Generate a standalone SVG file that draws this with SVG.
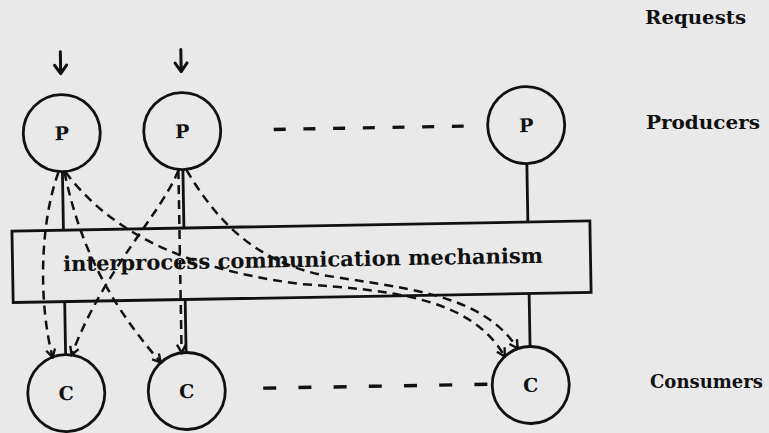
<svg xmlns="http://www.w3.org/2000/svg" width="769" height="433" viewBox="0 0 769 433">
  <style>
    .node { fill: none; stroke: #111; stroke-width: 2.8; }
    .solid { fill: none; stroke: #111; stroke-width: 2.8; }
    .dash { fill: none; stroke: #111; stroke-width: 2.5; stroke-dasharray: 9 6; }
    .rowdash { fill: none; stroke: #111; stroke-width: 3.4; }
    .lbl { font-family: "DejaVu Serif", "Liberation Serif", serif; font-weight: bold; fill: #111; }
    .req { fill: none; stroke: #111; stroke-width: 3; stroke-linecap: round; stroke-linejoin: round; }
  </style>
  <defs>
    <marker id="head" viewBox="-10 -6 12 12" refX="0" refY="0" markerWidth="12" markerHeight="12" orient="auto" markerUnits="userSpaceOnUse">
      <path d="M -8 -4.5 L 0 0 L -8 4.5" fill="none" stroke="#111" stroke-width="2.4"/>
    </marker>
  </defs>

  <rect x="0" y="0" width="769" height="433" fill="#e9e9e9"/>

  <!-- row labels -->
  <g id="labels">
    <text class="lbl" x="645" y="24" font-size="19" textLength="101" lengthAdjust="spacingAndGlyphs">Requests</text>
    <text class="lbl" x="646" y="129" font-size="19" textLength="114" lengthAdjust="spacingAndGlyphs">Producers</text>
    <text class="lbl" x="650" y="388" font-size="19" textLength="113" lengthAdjust="spacingAndGlyphs">Consumers</text>
  </g>

  <g transform="rotate(-1 300 260)">
    <!-- incoming requests -->
    <g id="requests">
      <path class="req" d="M 64 47.5 L 64 69.5 M 58 61 L 64 69.5 L 70 61"/>
      <path class="req" d="M 184.5 47.5 L 184.5 69.5 M 178.5 61 L 184.5 69.5 L 190.5 61"/>
    </g>

    <!-- shared communication mechanism -->
    <g id="ipc">
      <rect class="node" x="12.5" y="226" width="578" height="71.5"/>
      <text class="lbl" x="63" y="267" font-size="21" textLength="480" lengthAdjust="spacingAndGlyphs">interprocess communication mechanism</text>
    </g>

    <!-- producers -->
    <g id="p1">
      <circle class="node" cx="64" cy="129" r="38.5"/>
      <text class="lbl" x="64" y="136" font-size="19" text-anchor="middle">P</text>
    </g>
    <g id="p2">
      <circle class="node" cx="184.5" cy="129" r="38.5"/>
      <text class="lbl" x="184.5" y="136" font-size="19" text-anchor="middle">P</text>
    </g>
    <g id="p3">
      <circle class="node" cx="528.5" cy="129" r="38.5"/>
      <text class="lbl" x="528.5" y="136" font-size="19" text-anchor="middle">P</text>
    </g>

    <!-- consumers -->
    <g id="c1">
      <circle class="node" cx="64" cy="389" r="38.5"/>
      <text class="lbl" x="64" y="396" font-size="19" text-anchor="middle">C</text>
    </g>
    <g id="c2">
      <circle class="node" cx="184.5" cy="389" r="38.5"/>
      <text class="lbl" x="184.5" y="396" font-size="19" text-anchor="middle">C</text>
    </g>
    <g id="c3">
      <circle class="node" cx="528.5" cy="389" r="38.5"/>
      <text class="lbl" x="528.5" y="396" font-size="19" text-anchor="middle">C</text>
    </g>

    <g id="connectors">
      <!-- attachments to the mechanism -->
      <path class="solid" d="M 64 167.5 V 226 M 184.5 167.5 V 226 M 528.5 167.5 V 226"/>
      <path class="solid" d="M 64 297.5 V 350.5 M 184.5 297.5 V 350.5 M 528.5 297.5 V 350.5"/>

      <!-- elision between the last columns -->
      <path class="rowdash" d="M 276 129 H 466" stroke-dasharray="12 17.7"/>
      <path class="rowdash" d="M 261 387.5 H 490" stroke-dasharray="13 22.2"/>

      <!-- logical message paths -->
      <path class="dash" d="M 60 168 C 40 220, 38 300, 51 353" marker-end="url(#head)"/>
      <path class="dash" d="M 66 168 C 78 230, 100 290, 159 360" marker-end="url(#head)"/>
      <path class="dash" d="M 180 168 C 162 212, 104 265, 70 351" marker-end="url(#head)"/>
      <path class="dash" d="M 180 168 L 180 350.5" marker-end="url(#head)"/>
      <path class="dash" d="M 67 168 C 105 220, 170 265, 300 284 C 390 292, 470 300, 503 360" marker-end="url(#head)"/>
      <path class="dash" d="M 188 168 C 215 215, 250 258, 320 275 C 400 290, 480 295, 516 352" marker-end="url(#head)"/>
    </g>
  </g>
</svg>
